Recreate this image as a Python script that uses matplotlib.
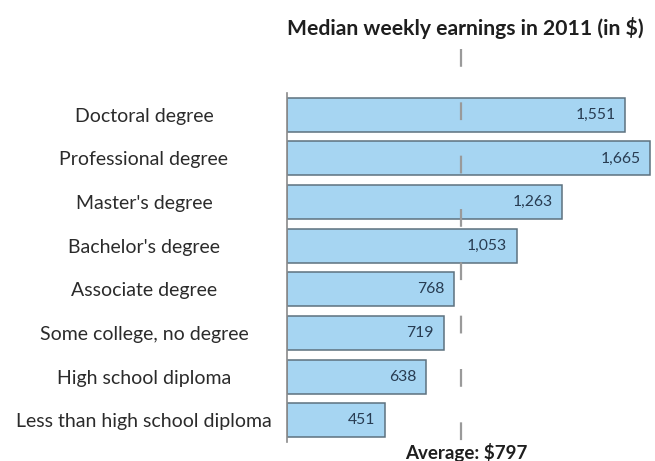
"""Median weekly earnings by education level, 2011 -- horizontal bar chart."""

import matplotlib
matplotlib.use("Agg")
import matplotlib.pyplot as plt
import matplotlib.transforms as mtransforms

# Data (top to bottom as shown)
CATEGORIES = [
    "Doctoral degree",
    "Professional degree",
    "Master's degree",
    "Bachelor's degree",
    "Associate degree",
    "Some college, no degree",
    "High school diploma",
    "Less than high school diploma",
]
EARNINGS = [1551, 1665, 1263, 1053, 768, 719, 638, 451]
AVERAGE = 797

TITLE = "Median weekly earnings in 2011 (in $)"
AVG_LABEL = "Average: $797"

W, H = 655, 461
BAR_FACE = "#a6d5f2"
BAR_EDGE = "#5d717f"
TEXT_DARK = "#2b2b2b"
VALUE_COLOR = "#283c52"

plt.rcParams["font.family"] = ["Lato", "DejaVu Sans"]

fig = plt.figure(figsize=(W / 100, H / 100), dpi=100)
ax = fig.add_axes([287 / W, 1 - 442 / H, (654 - 287) / W, (442 - 93) / H])

ypos = list(range(len(CATEGORIES)))
ax.barh(ypos, EARNINGS, height=0.78, color=BAR_FACE, edgecolor=BAR_EDGE,
        linewidth=1.1, zorder=2)

for y, v in zip(ypos, EARNINGS):
    ax.annotate(f"{v:,}", xy=(v, y), xytext=(-7, 0), textcoords="offset points",
                ha="right", va="center", fontsize=11.3, color=VALUE_COLOR, zorder=4)

ax.set_xlim(0, 1683)
ax.set_ylim(len(CATEGORIES) - 0.5, -0.5)

# average line, runs above the plot area up toward the title
trans = mtransforms.blended_transform_factory(ax.transData, ax.transAxes)
ax.plot([AVERAGE, AVERAGE], [1.125, 0.0], transform=trans, clip_on=False,
        color="#9a9a9a", linewidth=1.6, dashes=(8, 16), zorder=3)

ax.set_yticks(ypos)
ax.set_yticklabels(CATEGORIES, fontsize=14, color=TEXT_DARK)
for lbl in ax.get_yticklabels():
    lbl.set_horizontalalignment("center")
ax.tick_params(axis="y", length=0, pad=103)
ax.set_xticks([])

for side in ("top", "right", "bottom"):
    ax.spines[side].set_visible(False)
ax.spines["left"].set_color("#8a8a8a")
ax.spines["left"].set_linewidth(1.2)

fig.text(465 / W, 1 - 28 / H, TITLE, ha="center", va="center",
         fontsize=15.2, fontweight="bold", color="#1e1e1e")
ax.annotate(AVG_LABEL, xy=(AVERAGE, 0), xycoords=trans, xytext=(4, -7.5),
            textcoords="offset points", ha="center", va="center",
            fontsize=13.5, fontweight="bold", color="#1e1e1e", annotation_clip=False)

fig.savefig("out.png", dpi=100)
